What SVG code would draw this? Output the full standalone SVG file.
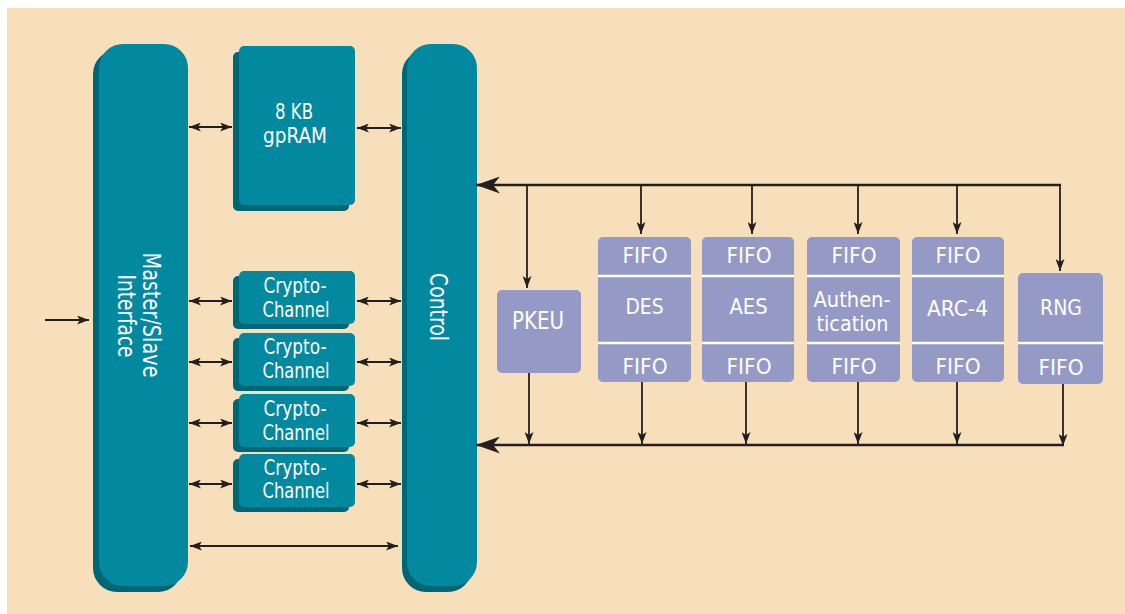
<svg xmlns="http://www.w3.org/2000/svg" width="1125" height="614" viewBox="0 0 1125 614">
<style>
.face{fill:#02889F}
.shd{fill:#006674}
.lav{fill:#9599C6}
.div{stroke:#FFFFFF;stroke-width:2.5}
.t{fill:#FFFFFF;font-family:"DejaVu Sans Condensed","Liberation Sans",sans-serif;font-size:22px;text-anchor:middle}
.tv{font-size:25px}
.ln{stroke:#231F20;stroke-width:1.8;fill:none}
.bus{stroke:#231F20;stroke-width:2.6;fill:none}
</style>
<defs>
<marker id="ah" viewBox="0 0 12 9" refX="12" refY="4.5" markerWidth="12" markerHeight="9" markerUnits="userSpaceOnUse" orient="auto-start-reverse">
<path d="M0,0 L12,4.5 L0,9 L3,4.5 z" fill="#231F20"/>
</marker>
<marker id="big" viewBox="0 0 24 17" refX="24" refY="8.5" markerWidth="24" markerHeight="17" markerUnits="userSpaceOnUse" orient="auto">
<path d="M0,0 L24,8.5 L0,17 L7,8.5 z" fill="#231F20"/>
</marker>
</defs>
<rect x="7" y="8" width="1118" height="606" fill="#F8DFBB"/>

<g id="master-slave">
<rect class="shd" x="93" y="50" width="89" height="542" rx="24"/>
<rect class="face" x="99" y="44" width="89" height="542" rx="24"/>
<text class="t tv" transform="translate(143,315) rotate(90)" textLength="125" lengthAdjust="spacingAndGlyphs">Master/Slave</text>
<text class="t tv" transform="translate(118,316) rotate(90)" textLength="83" lengthAdjust="spacingAndGlyphs">Interface</text>
</g>

<g id="gpram">
<rect class="shd" x="233" y="52" width="116" height="159" rx="5"/>
<rect class="face" x="239" y="46" width="116" height="159" rx="5"/>
<text class="t" x="294" y="119" textLength="38" lengthAdjust="spacingAndGlyphs">8 KB</text>
<text class="t" x="295" y="143" textLength="64" lengthAdjust="spacingAndGlyphs">gpRAM</text>
</g>

<g id="control">
<rect class="shd" x="402" y="50" width="70" height="542" rx="24"/>
<rect class="face" x="407" y="44" width="70" height="542" rx="24"/>
<text class="t tv" transform="translate(430,307) rotate(90)" textLength="68" lengthAdjust="spacingAndGlyphs">Control</text>
</g>

<g id="crypto1">
<rect class="shd" x="233" y="276" width="116" height="53" rx="5"/>
<rect class="face" x="239" y="271" width="116" height="53" rx="5"/>
<text class="t" x="295" y="293" textLength="63" lengthAdjust="spacingAndGlyphs">Crypto-</text>
<text class="t" x="296" y="317" textLength="67" lengthAdjust="spacingAndGlyphs">Channel</text>
</g>
<g id="crypto2">
<rect class="shd" x="233" y="338" width="116" height="53" rx="5"/>
<rect class="face" x="239" y="333" width="116" height="53" rx="5"/>
<text class="t" x="295" y="354" textLength="63" lengthAdjust="spacingAndGlyphs">Crypto-</text>
<text class="t" x="296" y="378" textLength="67" lengthAdjust="spacingAndGlyphs">Channel</text>
</g>
<g id="crypto3">
<rect class="shd" x="233" y="399" width="116" height="53" rx="5"/>
<rect class="face" x="239" y="394" width="116" height="53" rx="5"/>
<text class="t" x="295" y="416" textLength="63" lengthAdjust="spacingAndGlyphs">Crypto-</text>
<text class="t" x="296" y="440" textLength="67" lengthAdjust="spacingAndGlyphs">Channel</text>
</g>
<g id="crypto4">
<rect class="shd" x="233" y="459" width="116" height="53" rx="5"/>
<rect class="face" x="239" y="454" width="116" height="53" rx="5"/>
<text class="t" x="295" y="475" textLength="63" lengthAdjust="spacingAndGlyphs">Crypto-</text>
<text class="t" x="296" y="498" textLength="67" lengthAdjust="spacingAndGlyphs">Channel</text>
</g>

<g id="pkeu">
<rect class="lav" x="497" y="290" width="84" height="83" rx="5"/>
<text class="t" x="538" y="329" style="font-size:24px" textLength="52" lengthAdjust="spacingAndGlyphs">PKEU</text>
</g>
<g id="des">
<rect class="lav" x="598" y="237" width="93" height="145" rx="5"/>
<line class="div" x1="598" y1="276" x2="691" y2="276"/>
<line class="div" x1="598" y1="343" x2="691" y2="343"/>
<text class="t" x="645" y="263" textLength="45" lengthAdjust="spacingAndGlyphs">FIFO</text>
<text class="t" x="644.5" y="314" textLength="38" lengthAdjust="spacingAndGlyphs">DES</text>
<text class="t" x="645" y="374" textLength="45" lengthAdjust="spacingAndGlyphs">FIFO</text>
</g>
<g id="aes">
<rect class="lav" x="702" y="237" width="92" height="145" rx="5"/>
<line class="div" x1="702" y1="276" x2="794" y2="276"/>
<line class="div" x1="702" y1="343" x2="794" y2="343"/>
<text class="t" x="749" y="263" textLength="45" lengthAdjust="spacingAndGlyphs">FIFO</text>
<text class="t" x="748.5" y="314" textLength="38" lengthAdjust="spacingAndGlyphs">AES</text>
<text class="t" x="749" y="374" textLength="45" lengthAdjust="spacingAndGlyphs">FIFO</text>
</g>
<g id="auth">
<rect class="lav" x="807" y="237" width="93" height="145" rx="5"/>
<line class="div" x1="807" y1="276" x2="900" y2="276"/>
<line class="div" x1="807" y1="343" x2="900" y2="343"/>
<text class="t" x="854" y="263" textLength="45" lengthAdjust="spacingAndGlyphs">FIFO</text>
<text class="t" x="852" y="307" textLength="77" lengthAdjust="spacingAndGlyphs">Authen-</text>
<text class="t" x="852.5" y="331" textLength="72" lengthAdjust="spacingAndGlyphs">tication</text>
<text class="t" x="854" y="374" textLength="45" lengthAdjust="spacingAndGlyphs">FIFO</text>
</g>
<g id="arc4">
<rect class="lav" x="912" y="237" width="92" height="145" rx="5"/>
<line class="div" x1="912" y1="276" x2="1004" y2="276"/>
<line class="div" x1="912" y1="343" x2="1004" y2="343"/>
<text class="t" x="958" y="263" textLength="45" lengthAdjust="spacingAndGlyphs">FIFO</text>
<text class="t" x="957.5" y="316" textLength="61" lengthAdjust="spacingAndGlyphs">ARC-4</text>
<text class="t" x="958" y="374" textLength="45" lengthAdjust="spacingAndGlyphs">FIFO</text>
</g>
<g id="rng">
<rect class="lav" x="1018" y="273" width="85" height="111" rx="5"/>
<line class="div" x1="1018" y1="343" x2="1103" y2="343"/>
<text class="t" x="1061" y="315" textLength="42" lengthAdjust="spacingAndGlyphs">RNG</text>
<text class="t" x="1061" y="375" textLength="45" lengthAdjust="spacingAndGlyphs">FIFO</text>
</g>

<g id="connectors">
<line class="ln" x1="45" y1="320" x2="89" y2="320" marker-end="url(#ah)"/>
<line class="ln" x1="189" y1="127" x2="232" y2="127" marker-start="url(#ah)" marker-end="url(#ah)"/>
<line class="ln" x1="357" y1="128" x2="401" y2="128" marker-start="url(#ah)" marker-end="url(#ah)"/>
<line class="ln" x1="189" y1="301" x2="232" y2="301" marker-start="url(#ah)" marker-end="url(#ah)"/>
<line class="ln" x1="357" y1="301" x2="401" y2="301" marker-start="url(#ah)" marker-end="url(#ah)"/>
<line class="ln" x1="189" y1="362" x2="232" y2="362" marker-start="url(#ah)" marker-end="url(#ah)"/>
<line class="ln" x1="357" y1="362" x2="401" y2="362" marker-start="url(#ah)" marker-end="url(#ah)"/>
<line class="ln" x1="189" y1="423" x2="232" y2="423" marker-start="url(#ah)" marker-end="url(#ah)"/>
<line class="ln" x1="357" y1="423" x2="401" y2="423" marker-start="url(#ah)" marker-end="url(#ah)"/>
<line class="ln" x1="189" y1="484" x2="232" y2="484" marker-start="url(#ah)" marker-end="url(#ah)"/>
<line class="ln" x1="357" y1="484" x2="401" y2="484" marker-start="url(#ah)" marker-end="url(#ah)"/>
<line class="ln" x1="190" y1="546" x2="398" y2="546" marker-start="url(#ah)" marker-end="url(#ah)"/>

<line class="bus" x1="1061" y1="185" x2="476" y2="185" marker-end="url(#big)"/>
<line class="bus" x1="1064" y1="445" x2="476" y2="445" marker-end="url(#big)"/>

<line class="ln" x1="527" y1="185" x2="527" y2="288" marker-end="url(#ah)"/>
<line class="ln" x1="641" y1="185" x2="641" y2="234" marker-end="url(#ah)"/>
<line class="ln" x1="752" y1="185" x2="752" y2="234" marker-end="url(#ah)"/>
<line class="ln" x1="858" y1="185" x2="858" y2="234" marker-end="url(#ah)"/>
<line class="ln" x1="957" y1="185" x2="957" y2="234" marker-end="url(#ah)"/>
<line class="ln" x1="1060" y1="184" x2="1060" y2="271" marker-end="url(#ah)"/>

<line class="ln" x1="529" y1="373" x2="529" y2="444" marker-end="url(#ah)"/>
<line class="ln" x1="642" y1="382" x2="642" y2="444" marker-end="url(#ah)"/>
<line class="ln" x1="746" y1="382" x2="746" y2="444" marker-end="url(#ah)"/>
<line class="ln" x1="858" y1="382" x2="858" y2="444" marker-end="url(#ah)"/>
<line class="ln" x1="957" y1="382" x2="957" y2="444" marker-end="url(#ah)"/>
<line class="ln" x1="1063" y1="384" x2="1063" y2="446" marker-end="url(#ah)"/>
</g>
</svg>
